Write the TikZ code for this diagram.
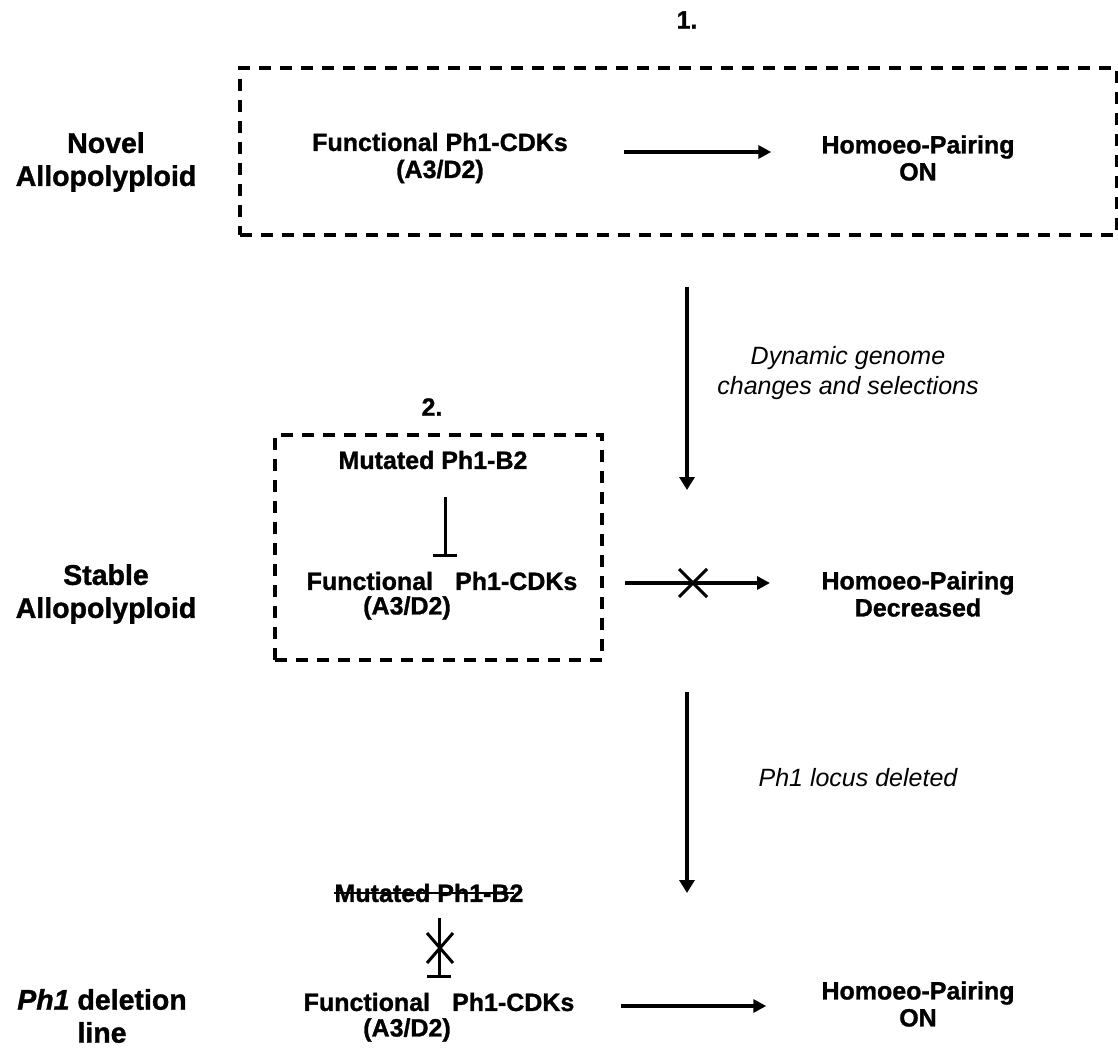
\documentclass[tikz,border=0pt]{standalone}
\usepackage{fontspec}
\setmainfont{Liberation Sans}[BoldFeatures={FakeBold=1.2},BoldItalicFeatures={FakeBold=1.2}]
\usetikzlibrary{arrows.meta}
\begin{document}
\begin{tikzpicture}[x=1pt,y=-1pt,
  lbl/.style={font=\fontsize{25}{27}\selectfont\bfseries, align=center, inner sep=0pt},
  side/.style={font=\fontsize{28.5}{33}\selectfont\bfseries, align=center, inner sep=0pt},
  note/.style={font=\fontsize{25}{30}\selectfont\itshape, align=center, inner sep=0pt},
  dbox/.style={draw, line width=3.8pt, dash pattern=on 12pt off 9pt, inner sep=0pt},
  harrow/.style={line width=4pt, -{Triangle[length=13pt,width=13pt]}},
  varrow/.style={line width=4.5pt, -{Triangle[length=13pt,width=15pt]}},
  inhib/.style={line width=3pt, -{Bar[width=24pt,line width=3pt]}},
  xmark/.style={line width=3pt}]
\useasboundingbox (0,0) rectangle (1118,1048);

% ---- row 1
\node[lbl] (n1) at (687,20) {1.};
\node[dbox, minimum width=877pt, minimum height=167pt] (box1) at (678.5,151.5) {};
\node[side] (s1) at (106,162) {Novel\\Allopolyploid};
\node[lbl] (f1) at (440,158) {Functional Ph1-CDKs\\(A3/D2)};
\node[lbl] (h1) at (918,158) {Homoeo-Pairing\\ON};
\draw[harrow] ([shift={(56,-6)}]f1.east) -- ([shift={(-50,-6)}]h1.west);

% ---- transition 1
\coordinate (a1s) at (687,287);
\coordinate (a1e) at (687,490);
\draw[varrow] (a1s) -- (a1e);
\node[note] (t1) at (848,373) {Dynamic genome\\changes and selections};

% ---- row 2
\node[lbl] (n2) at (432,407) {2.};
\node[dbox, minimum width=327pt, minimum height=225pt] (box2) at (438.5,547.5) {};
\node[side] (s2) at (106,594) {Stable\\Allopolyploid};
\node[lbl] (m2) at (433,460) {Mutated Ph1-B2};
\node[lbl] (f2) at (442,581) {Functional\hspace{22pt}Ph1-CDKs};
\node[lbl] (f2b) at (407,608) {(A3/D2)};
\draw[inhib] ([xshift=12]m2.south |- 0,497) -- ([xshift=3]f2.north |- 0,557);
\node[lbl] (h2) at (918,594) {Homoeo-Pairing\\Decreased};
\coordinate (a2s) at (625,583);
\coordinate (a2e) at (770,583);
\draw[harrow] (a2s) -- (a2e);
\coordinate (x2) at (693,583);
\draw[xmark] ([shift={(-14,-14)}]x2) -- ([shift={(14,14)}]x2)
             ([shift={(-14,14)}]x2) -- ([shift={(14,-14)}]x2);

% ---- transition 2
\coordinate (b1s) at (687,692);
\coordinate (b1e) at (687,893);
\draw[varrow] (b1s) -- (b1e);
\node[note] (t2) at (858,778) {Ph1 locus deleted};

% ---- row 3
\node[side] (s3) at (102,1016) {\textit{Ph1} deletion\\line};
\node[lbl] (m3) at (429,893) {Mutated Ph1-B2};
\draw[line width=2.2pt] (m3.west) -- ([xshift=-10]m3.east);
\node[lbl] (f3) at (439,1002) {Functional\hspace{22pt}Ph1-CDKs};
\node[lbl] (f3b) at (407,1030) {(A3/D2)};
\coordinate (i3s) at (439,918);
\coordinate (i3e) at (439,978);
\draw[inhib] (i3s) -- (i3e);
\coordinate (x3) at (440,948);
\draw[xmark] ([shift={(-13,-15)}]x3) -- ([shift={(13,15)}]x3)
             ([shift={(-13,15)}]x3) -- ([shift={(13,-15)}]x3);
\node[lbl] (h3) at (918,1004) {Homoeo-Pairing\\ON};
\draw[harrow] ([xshift=46]f3.east |- 0,1006) -- ([xshift=-55]h3.west |- 0,1006);
\end{tikzpicture}
\end{document}
